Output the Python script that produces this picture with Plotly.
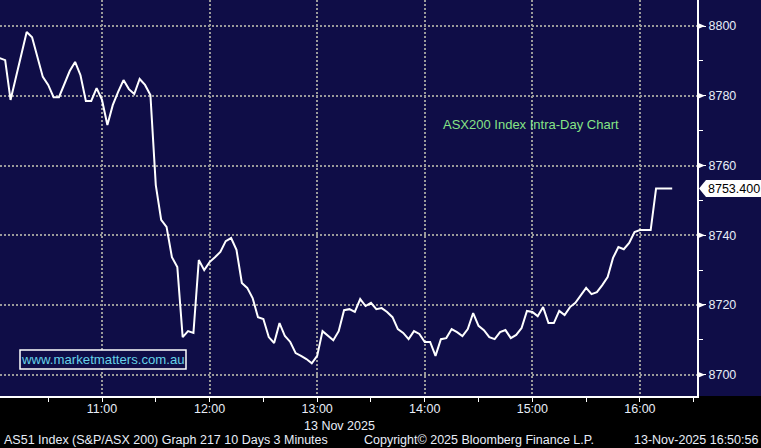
import pandas as pd
import plotly.graph_objects as go

# ---- data ----
start_time = "2025-11-13 10:03"
interval = "3min"
prices = [
    8790.8, 8790.2, 8778.8, 8785.1, 8791.7, 8798.3, 8796.8, 8791.1, 8785.4, 8783.1,
    8779.6, 8779.6, 8783.4, 8787.1, 8789.7, 8785.9, 8778.5, 8778.5, 8782.2, 8778.8,
    8771.6, 8777.3, 8781.1, 8784.5, 8781.9, 8780.5, 8784.8, 8783.1, 8780.2, 8754.4,
    8744.4, 8742.4, 8733.7, 8730.9, 8710.8, 8712.5, 8712.0, 8732.9, 8730.0, 8732.3,
    8733.7, 8735.2, 8738.3, 8739.2, 8735.8, 8726.3, 8724.9, 8722.0, 8716.5, 8716.0,
    8710.8, 8709.1, 8714.8, 8711.1, 8709.4, 8706.2, 8705.4, 8704.5, 8703.3, 8705.4,
    8712.5, 8711.1, 8709.9, 8712.5, 8718.5, 8718.8, 8718.0, 8721.7, 8719.7, 8720.6,
    8718.8, 8719.1, 8718.0, 8716.5, 8713.1, 8712.0, 8710.2, 8712.5, 8711.7, 8709.4,
    8709.4, 8705.4, 8710.2, 8710.5, 8713.1, 8712.2, 8711.1, 8713.1, 8717.7, 8714.0,
    8712.8, 8710.8, 8710.2, 8712.2, 8712.8, 8710.5, 8711.4, 8713.4, 8718.3, 8718.0,
    8716.8, 8719.4, 8714.8, 8714.8, 8718.3, 8717.1, 8719.4, 8720.6, 8722.6, 8724.9,
    8723.1, 8723.7, 8725.7, 8728.0, 8733.5, 8736.6, 8736.0, 8737.8, 8740.9, 8741.5,
    8741.5, 8741.5, 8753.4, 8753.4, 8753.4, 8753.4,
]
y_ticks = [8700, 8720, 8740, 8760, 8780, 8800]
x_tick_times = ["11:00", "12:00", "13:00", "14:00", "15:00", "16:00"]
date_label = "13 Nov 2025"
last_label = "8753.400"
title_text = "ASX200 Index Intra-Day Chart"
watermark = "www.marketmatters.com.au"
footer_left = "AS51 Index (S&P/ASX 200) Graph 217 10 Days 3 Minutes"
footer_mid = "Copyright\u00a9 2025 Bloomberg Finance L.P."
footer_right = "13-Nov-2025 16:50:56"

times = pd.date_range(start_time, periods=len(prices), freq=interval)
day = "2025-11-13 "
x_tick_vals = [day + t for t in x_tick_times]

NAVY = "#0f0d47"
GRID = "#9a9a9a"
TXT = "#e8eef8"
FONT = "Liberation Sans, Arial, sans-serif"

fig = go.Figure()
fig.add_trace(go.Scatter(x=times, y=prices, mode="lines",
                         line=dict(color="white", width=2), hoverinfo="skip",
                         showlegend=False))

W, H = 761, 448
L, R, T, B = 0, 64, 0, 52
plot_w = W - L - R
plot_h = H - T - B

fig.update_layout(
    template="none",
    width=W, height=H,
    margin=dict(l=L, r=R, t=T, b=B, pad=0, autoexpand=False),
    paper_bgcolor="black", plot_bgcolor=NAVY,
    font=dict(family=FONT, size=12.5, color=TXT),
    showlegend=False,
    xaxis=dict(
        type="date", automargin=False,
        range=["2025-11-13 10:03:07", "2025-11-13 16:31:50"],
        tickvals=x_tick_vals, ticktext=x_tick_times,
        showgrid=True, gridcolor=GRID, gridwidth=1.5, griddash="2px,2px",
        showline=True, linecolor="white", linewidth=2,
        ticks="", ticklabelstandoff=0,
        minor=dict(dtick=1800000, tick0="2025-11-13 10:30", ticks="outside",
                   ticklen=4, tickcolor="white", tickwidth=1, showgrid=False),
        tickfont=dict(family=FONT, size=12.5, color=TXT),
        zeroline=False, fixedrange=True,
    ),
    yaxis=dict(
        side="right", automargin=False,
        range=[8693.9, 8807.46],
        tickvals=y_ticks,
        showgrid=True, gridcolor=GRID, gridwidth=1.5, griddash="2px,2px",
        showline=True, linecolor="white", linewidth=2,
        ticks="outside", ticklen=7, tickcolor="white", tickwidth=1,
        minor=dict(dtick=10, tick0=8690, ticks="outside", ticklen=4,
                   tickcolor="white", tickwidth=1, showgrid=False),
        tickfont=dict(family=FONT, size=12.5, color=TXT),
        zeroline=False, fixedrange=True,
    ),
)

shapes = []
# navy strip to the right of the price axis
shapes.append(dict(type="rect", xref="paper", yref="paper", x0=1, x1=1 + R / plot_w,
                   y0=0, y1=1, fillcolor=NAVY, line=dict(width=0), layer="below"))
# arrow heads on major y ticks
for v in y_ticks:
    shapes.append(dict(type="path", xref="paper", yref="y",
                       xsizemode="pixel", ysizemode="pixel", xanchor=1, yanchor=v,
                       path="M1,-3 L8,0 L1,3 Z", fillcolor="white",
                       line=dict(color="white", width=0)))
# last price label box with pointer
shapes.append(dict(type="path", xref="paper", yref="y",
                   xsizemode="pixel", ysizemode="pixel", xanchor=1, yanchor=prices[-1],
                   path="M2,0 L9,-8.5 L66,-8.5 L66,8.5 L9,8.5 Z", fillcolor="white",
                   line=dict(color="white", width=0)))
# watermark box
shapes.append(dict(type="rect", xref="paper", yref="paper",
                   x0=20 / plot_w, x1=186 / plot_w,
                   y0=(plot_h - 369) / plot_h, y1=(plot_h - 350) / plot_h,
                   line=dict(color="white", width=1.5), fillcolor=NAVY))
fig.update_layout(shapes=shapes)

fig.add_annotation(x=1, xref="paper", y=prices[-1], yref="y", xanchor="left",
                   xshift=9, text=last_label, showarrow=False,
                   font=dict(family=FONT, size=12.5, color="black"))
fig.add_annotation(x=441 / plot_w, xref="paper", y=(plot_h - 124) / plot_h, yref="paper",
                   xanchor="left", yanchor="middle", text=title_text, showarrow=False,
                   font=dict(family=FONT, size=13, color="#86e486"))
fig.add_annotation(x=103 / plot_w, xref="paper", y=(plot_h - 359.5) / plot_h, yref="paper",
                   xanchor="center", yanchor="middle", text=watermark, showarrow=False,
                   font=dict(family=FONT, size=13.2, color="#66d2e8"))
fig.add_annotation(x=day + "13:00", xref="x", y=0, yref="paper", yanchor="middle",
                   yshift=-(426 - plot_h), xanchor="left", xshift=-15,
                   text=date_label, showarrow=False,
                   font=dict(family=FONT, size=12.5, color=TXT))

for txt, xpx, anchor in [(footer_left, 2, "left"), (footer_mid, 362, "left"),
                         (footer_right, 760, "right")]:
    fig.add_annotation(x=xpx / plot_w, xref="paper", y=0, yref="paper",
                       yanchor="middle", yshift=-(440 - plot_h), xanchor=anchor,
                       text=txt, showarrow=False,
                       font=dict(family=FONT, size=12.5, color=TXT))

fig.write_html("out.html", config={"displayModeBar": False},
               post_script="document.body.style.margin='0';"
                           "document.body.style.background='black';")
